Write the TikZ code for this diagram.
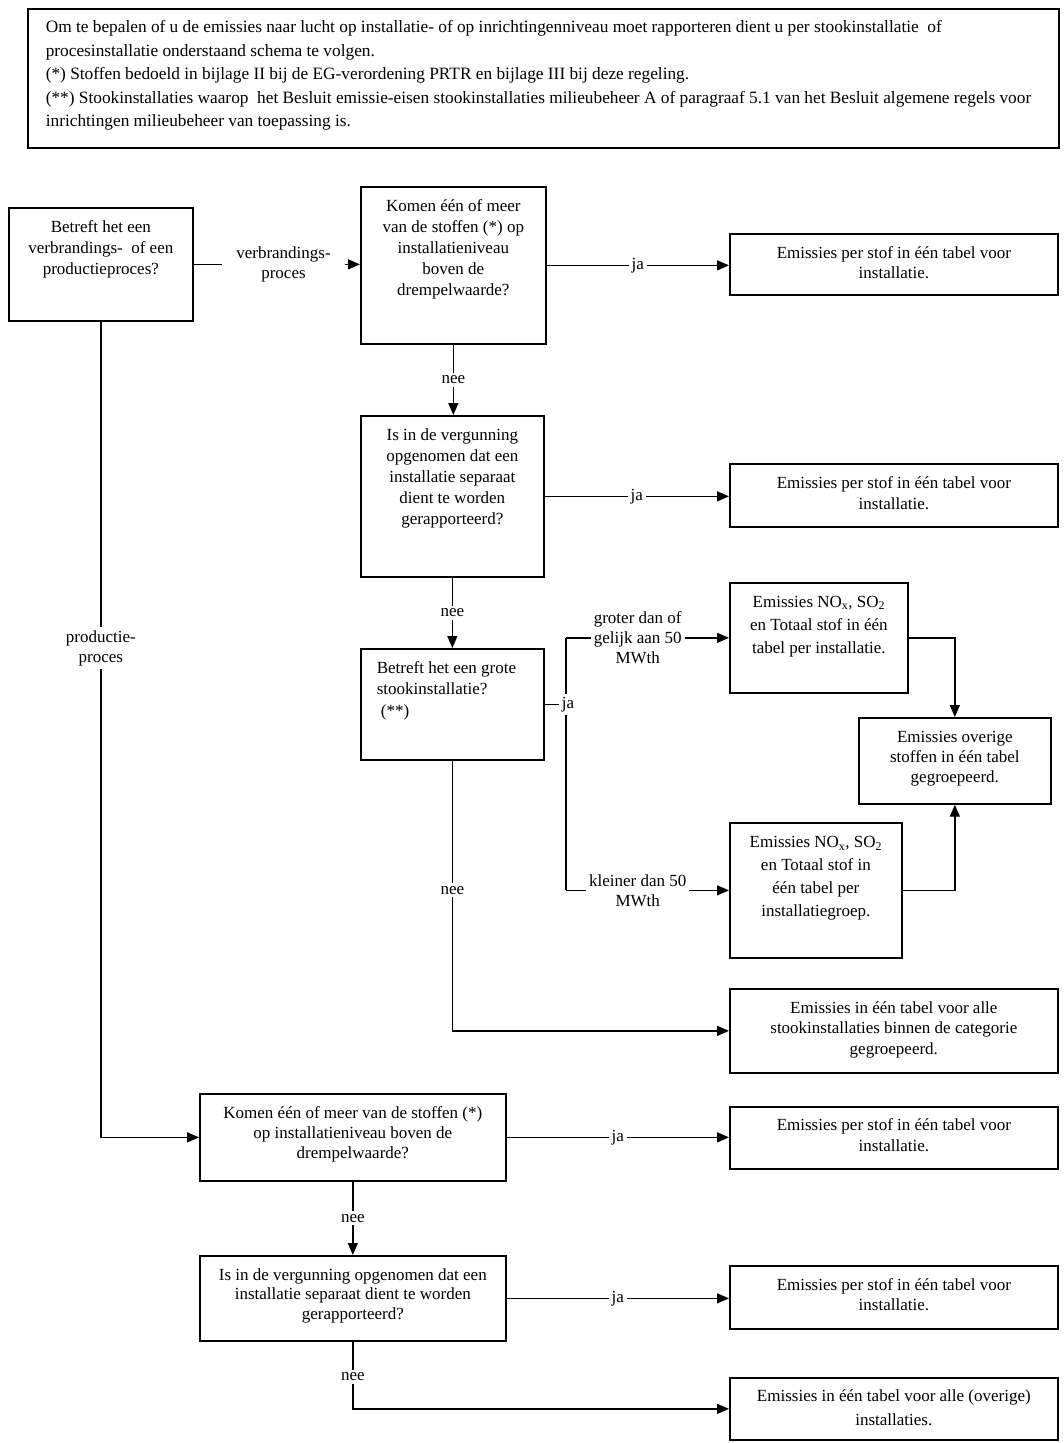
\documentclass[tikz,border=0pt]{standalone}
\usepackage{fontspec}
\setmainfont{Liberation Serif}
\usetikzlibrary{arrows.meta}
% centred box text: width, height, first baseline, baselineskip, text
\newcommand{\cbx}[5]{\parbox[c][#2pt][t]{#1pt}{\fontsize{17pt}{#4pt}\selectfont\parindent=0pt\centering\rule{0pt}{#3pt}#5}}
% left box text: width, height, first baseline, baselineskip, left indent, text
\newcommand{\lbx}[6]{\parbox[c][#2pt][t]{#1pt}{\fontsize{17pt}{#4pt}\selectfont\parindent=0pt\raggedright\leftskip=#5pt\rule{0pt}{#3pt}#6}}
\newcommand{\lblfont}{\fontsize{17pt}{20pt}\selectfont}
\begin{document}
\begin{tikzpicture}[x=1pt,y=-1pt,
  bx/.style={draw, line width=1.7pt, inner sep=0pt, anchor=north west},
  arr/.style={line width=1.3pt, -{Triangle[length=12pt,width=10pt]}},
  ln/.style={line width=1.3pt},
  lbl/.style={fill=white, inner sep=3pt, align=center, font=\lblfont},
]
\useasboundingbox[fill=white] (0,0) rectangle (1063,1443);

% header
\node[bx, line width=1.6pt] (T) at (27,8) {\parbox[c][139pt][t]{1031pt}{\fontsize{17.3pt}{23.5pt}\selectfont\parindent=0pt\raggedright\leftskip=18pt\rule{0pt}{24pt}Om te bepalen of u de emissies naar lucht op installatie- of op inrichtingenniveau moet rapporteren dient u per stookinstallatie\ \ of\\procesinstallatie onderstaand schema te volgen.\\(*) Stoffen bedoeld in bijlage II bij de EG-verordening PRTR en bijlage III bij deze regeling.\\(**) Stookinstallaties waarop\ \ het Besluit emissie-eisen stookinstallaties milieubeheer A of paragraaf 5.1 van het Besluit algemene regels voor\\inrichtingen milieubeheer van toepassing is.}};

% boxes
\node[bx] (A) at (8,207) {\cbx{184}{113}{25}{21}{Betreft het een\\verbrandings-\ \ of een\\productieproces?}};
\node[bx] (B) at (360,186) {\cbx{185}{157}{24.5}{21}{Komen één of meer\\van de stoffen (*) op\\installatieniveau\\boven de\\drempelwaarde?}};
\node[bx] (C) at (729,233) {\cbx{328}{61}{24.5}{20}{Emissies per stof in één tabel voor\\installatie.}};
\node[bx] (D) at (360,415) {\cbx{183}{161}{25}{21}{Is in de vergunning\\opgenomen dat een\\installatie separaat\\dient te worden\\gerapporteerd?}};
\node[bx] (E) at (729,463) {\cbx{328}{63}{24.5}{21}{Emissies per stof in één tabel voor\\installatie.}};
\node[bx] (F) at (360,648) {\lbx{183}{111}{24.5}{21.5}{16}{Betreft het een grote\\stookinstallatie?\\\hspace*{4pt}(**)}};
\node[bx] (G) at (729,582) {\cbx{178}{110}{24.5}{23}{Emissies NO\textsubscript{x}, SO\textsubscript{2}\\en Totaal stof in één\\tabel per installatie.}};
\node[bx] (H) at (858,717) {\cbx{192}{86}{24.5}{20}{Emissies overige\\stoffen in één tabel\\gegroepeerd.}};
\node[bx] (I) at (729,822) {\cbx{172}{135}{25}{23}{Emissies NO\textsubscript{x}, SO\textsubscript{2}\\en Totaal stof in\\één tabel per\\installatiegroep.}};
\node[bx] (J) at (729,988) {\cbx{328}{84}{24.5}{20.5}{Emissies in één tabel voor alle\\stookinstallaties binnen de categorie\\gegroepeerd.}};
\node[bx] (K) at (199,1093) {\cbx{306}{87}{24.5}{20}{Komen één of meer van de stoffen (*)\\op installatieniveau boven de\\drempelwaarde?}};
\node[bx] (L) at (729,1106) {\cbx{328}{62}{23.5}{21}{Emissies per stof in één tabel voor\\installatie.}};
\node[bx] (M) at (199,1255) {\cbx{306}{85}{24.5}{19.5}{Is in de vergunning opgenomen dat een\\installatie separaat dient te worden\\gerapporteerd?}};
\node[bx] (N) at (729,1265) {\cbx{328}{63}{25}{20}{Emissies per stof in één tabel voor\\installatie.}};
\node[bx] (O) at (729,1377) {\cbx{328}{62}{23.5}{24}{Emissies in één tabel voor alle (overige)\\installaties.}};

% connectors
\draw[arr] (A.east) -- node[lbl, pos=0.54, inner xsep=14pt]{verbrandings-\\proces} (A.east -| B.west);
\draw[arr] (A.south) -- node[lbl, pos=0.4]{productie-\\proces} (A.south |- K.west) -- (K.west);
\draw[arr] (B.east) -- node[lbl]{ja} (B.east -| C.west);
\draw[arr] (B.south) -- node[lbl]{nee} (B.south |- D.north);
\draw[arr] (D.east) -- node[lbl]{ja} (D.east -| E.west);
\draw[arr] (D.south) -- node[lbl]{nee} (D.south |- F.north);
\coordinate (S) at (566,0);
\draw[ln] (S |- G.west) -- (S |- I.west);
\draw[ln] (F.east) -- (F.east -| S) node[lbl, xshift=2pt]{ja};
\draw[arr] (S |- G.west) -- node[lbl, pos=0.44]{groter dan of\\gelijk aan 50\\MWth} (G.west);
\draw[arr] (S |- I.west) -- node[lbl, pos=0.44]{kleiner dan 50\\MWth} (I.west);
\draw[arr] (G.east) -| (H.north);
\draw[arr] (I.east) -| (H.south);
\draw[arr] (F.south) |- node[lbl, pos=0.24]{nee} (J.west);
\draw[arr] (K.east) -- node[lbl]{ja} (K.east -| L.west);
\draw[arr] (K.south) -- node[lbl]{nee} (K.south |- M.north);
\draw[arr] (M.east) -- node[lbl]{ja} (M.east -| N.west);
\draw[arr] (M.south) |- node[lbl, pos=0.26]{nee} (O.west);
\end{tikzpicture}
\end{document}
